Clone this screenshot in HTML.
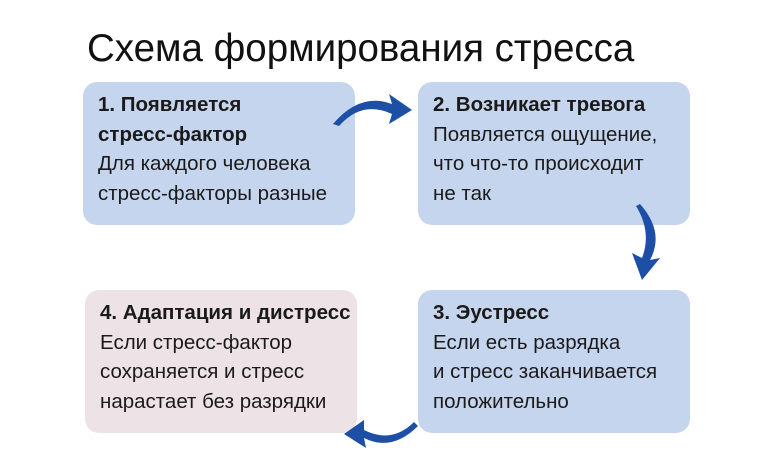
<!DOCTYPE html>
<html><head><meta charset="utf-8"><style>
body{margin:0;width:780px;height:470px;background:#fff;position:relative;overflow:hidden;font-family:"Liberation Sans",Arial,sans-serif;}
h1{position:absolute;left:87px;top:27px;margin:0;font-weight:normal;font-size:38.5px;color:#111;}
.b{position:absolute;width:272px;height:143px;border-radius:14px;background:#c6d5ee;box-sizing:border-box;padding:8px 0 0 15px;font-size:20.5px;line-height:29.5px;color:#1a1a1a;white-space:nowrap}
.b b{font-weight:bold}
.p{background:#ede2e5}
</style></head><body>
<h1>Схема формирования стресса</h1>
<div class="b" style="left:83px;top:82px"><b>1. Появляется<br>стресс-фактор</b><br>Для каждого человека<br>стресс-факторы разные</div>
<div class="b" style="left:418px;top:82px"><b>2. Возникает тревога</b><br>Появляется ощущение,<br>что что-то происходит<br>не так</div>
<div class="b" style="left:418px;top:290px"><b>3. Эустресс</b><br>Если есть разрядка<br>и стресс заканчивается<br>положительно</div>
<div class="b p" style="left:85px;top:290px"><b>4. Адаптация и дистресс</b><br>Если стресс-фактор<br>сохраняется и стресс<br>нарастает без разрядки</div>
<svg width="780" height="470" style="position:absolute;left:0;top:0">
<g fill="#1d4fa6">
<path d="M333,124 Q360,92 392,104 L389,94 L412,110 L389,124 L392,114 Q362,100 339,126 Z"/>
<path d="M640,204 Q665,232 650,260 L660,258 L642,280 L632,253 L642,258 Q652,232 636,206 Z"/>
<path d="M418,426 Q392,452 364,438 L366,448 L344,434 L364,420 L364,430 Q392,444 414,422 Z"/>
</g></svg>
</body></html>
